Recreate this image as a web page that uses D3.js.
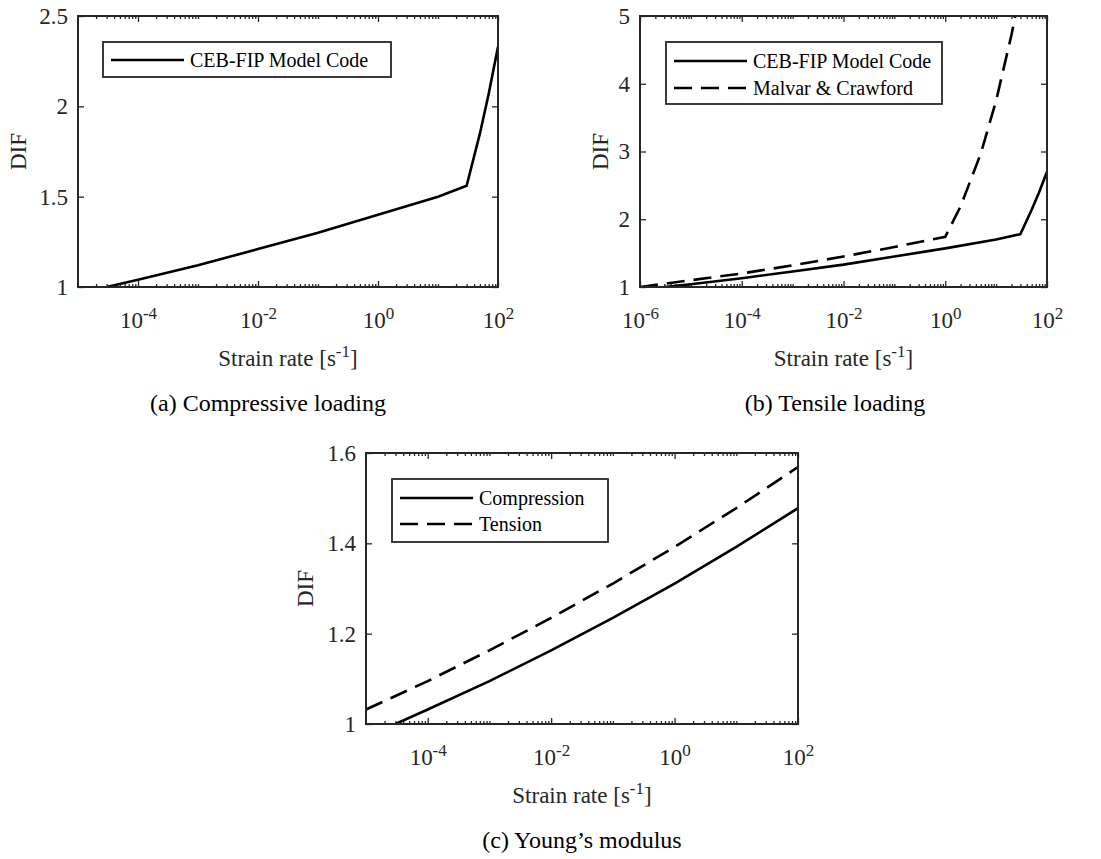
<!DOCTYPE html>
<html>
<head>
<meta charset="utf-8">
<script src="https://cdn.jsdelivr.net/npm/d3@7"></script>
<style>
  body { margin: 0; background: #fff; }
  svg text { font-family: "Liberation Serif", "Times New Roman", serif; }
</style>
</head>
<body>
<svg id="chart" width="1101" height="859"></svg>
<script>
// (a) compressive loading, CEB-FIP
const rateCompCEB = [3e-5, 1e-4, 1e-3, 1e-2, 1e-1, 1, 10, 30, 50, 70, 100]
const difCompCEB = [1.00, 1.04, 1.12, 1.21, 1.30, 1.40, 1.50, 1.56, 1.85, 2.07, 2.33]

// (b) tensile loading
const rateTensCEB = [3e-6, 1e-5, 1e-4, 1e-3, 1e-2, 1e-1, 1, 10, 30, 50, 70, 100]
const difTensCEB = [1.00, 1.04, 1.13, 1.23, 1.33, 1.45, 1.57, 1.70, 1.78, 2.14, 2.40, 2.70]
const rateTensMalvar = [1e-6, 1e-5, 1e-4, 1e-3, 1e-2, 1e-1, 1, 2, 5, 10, 20, 23.8]
const difTensMalvar = [1.00, 1.10, 1.20, 1.32, 1.45, 1.59, 1.74, 2.19, 2.97, 3.75, 4.72, 5.00]

// (c) Young's modulus
const rateModComp = [3e-5, 1e-4, 1e-3, 1e-2, 1e-1, 1, 10, 100]
const difModComp = [1.000, 1.032, 1.095, 1.163, 1.235, 1.311, 1.392, 1.478]
const rateModTens = [1e-5, 1e-4, 1e-3, 1e-2, 1e-1, 1, 10, 100]
const difModTens = [1.032, 1.095, 1.163, 1.235, 1.311, 1.392, 1.478, 1.569]

// tick labels
const yTicksA = [1, 1.5, 2, 2.5]
const yTicksB = [1, 2, 3, 4, 5]
const yTicksC = [1, 1.2, 1.4, 1.6]
const xExpsA = [-4, -2, 0, 2]
const xExpsB = [-6, -4, -2, 0, 2]
const xExpsC = [-4, -2, 0, 2]

const AXIS = '#262626'
const DASH = '18,9'
const FONT = 23

const zip = (xs, ys) => xs.map((v, i) => ({ rate: v, dif: ys[i] }))

const svg = d3.select('#chart')

const drawPanel = (p) => {
  const x = d3.scaleLog().domain(p.xDomain).range([p.left, p.right])
  const y = d3.scaleLinear().domain(p.yDomain).range([p.bottom, p.top])
  const g = svg.append('g')

  const majors = p.xExps.map(e => Math.pow(10, e))
  const isMajor = v => majors.some(m => Math.abs(Math.log10(v) - Math.log10(m)) < 1e-6)
  const minors = x.ticks().filter(v => !isMajor(v) && v > p.xDomain[0] * 1.0001 && v < p.xDomain[1] * 0.9999)

  const styleAxis = sel => {
    sel.select('.domain').remove()
    sel.selectAll('line').attr('stroke', AXIS).attr('stroke-width', 1.3)
    sel.attr('font-family', null).attr('font-size', null)
  }

  // minor ticks, bottom and top
  g.append('g').attr('transform', `translate(0,${p.bottom})`)
    .call(d3.axisBottom(x).tickValues(minors).tickSize(-3).tickSizeOuter(0).tickFormat(''))
    .call(styleAxis)
  g.append('g').attr('transform', `translate(0,${p.top})`)
    .call(d3.axisTop(x).tickValues(minors).tickSize(-3).tickSizeOuter(0).tickFormat(''))
    .call(styleAxis)

  // major ticks with 10^n labels
  g.append('g').attr('transform', `translate(0,${p.bottom})`)
    .call(d3.axisBottom(x).tickValues(majors).tickSize(-6).tickSizeOuter(0).tickPadding(25).tickFormat(() => ''))
    .call(styleAxis)
    .selectAll('.tick text')
    .style('font-size', FONT + 'px')
    .attr('fill', AXIS)
    .each(function (d) {
      const t = d3.select(this)
      t.append('tspan').text('10')
      t.append('tspan').attr('dy', -9).style('font-size', '17px').text(Math.round(Math.log10(d)))
    })
  g.append('g').attr('transform', `translate(0,${p.top})`)
    .call(d3.axisTop(x).tickValues(majors).tickSize(-6).tickSizeOuter(0).tickFormat(''))
    .call(styleAxis)

  // y ticks left and right
  g.append('g').attr('transform', `translate(${p.left},0)`)
    .call(d3.axisLeft(y).tickValues(p.yTicks).tickSize(-6).tickSizeOuter(0).tickPadding(10).tickFormat(d3.format('')))
    .call(styleAxis)
    .selectAll('.tick text')
    .style('font-size', FONT + 'px')
    .attr('fill', AXIS)
  g.append('g').attr('transform', `translate(${p.right},0)`)
    .call(d3.axisRight(y).tickValues(p.yTicks).tickSize(-6).tickSizeOuter(0).tickFormat(''))
    .call(styleAxis)

  // curves
  const clipId = 'clip-' + p.id
  g.append('clipPath').attr('id', clipId)
    .append('rect')
    .attr('x', p.left).attr('y', p.top)
    .attr('width', p.right - p.left).attr('height', p.bottom - p.top)

  const line = d3.line().x(d => x(d.rate)).y(d => y(d.dif))
  p.series.forEach(s => {
    g.append('path')
      .datum(s.data)
      .attr('clip-path', `url(#${clipId})`)
      .attr('d', line)
      .style('fill', 'none')
      .style('stroke', '#000')
      .style('stroke-width', 2.6)
      .style('stroke-dasharray', s.dashed ? DASH : null)
  })

  // box
  g.append('rect')
    .attr('x', p.left).attr('y', p.top)
    .attr('width', p.right - p.left).attr('height', p.bottom - p.top)
    .style('fill', 'none')
    .style('stroke', AXIS)
    .style('stroke-width', 2)

  // legend
  const lg = g.append('g')
  lg.append('rect')
    .attr('x', p.legend.x).attr('y', p.legend.y)
    .attr('width', p.legend.w).attr('height', p.legend.h)
    .style('fill', '#fff')
    .style('stroke', AXIS)
    .style('stroke-width', 1.8)
  p.series.forEach((s, i) => {
    const ry = p.legend.rows[i]
    lg.append('line')
      .attr('x1', p.legend.x + 8).attr('x2', p.legend.x + 81)
      .attr('y1', ry).attr('y2', ry)
      .style('stroke', '#000')
      .style('stroke-width', 2.6)
      .style('stroke-dasharray', s.dashed ? DASH : null)
    lg.append('text')
      .attr('x', p.legend.x + 87)
      .attr('y', ry)
      .attr('dy', '0.35em')
      .style('font-size', '20px')
      .style('fill', '#000')
      .text(s.name)
  })

  // axis labels
  g.append('text')
    .attr('transform', `translate(${p.yLabelX},${(p.top + p.bottom) / 2}) rotate(-90)`)
    .attr('text-anchor', 'middle')
    .attr('dy', '0.35em')
    .style('font-size', FONT + 'px')
    .style('fill', AXIS)
    .text('DIF')

  const xl = g.append('text')
    .attr('x', (p.left + p.right) / 2)
    .attr('y', p.bottom + 79)
    .attr('text-anchor', 'middle')
    .style('font-size', FONT + 'px')
    .style('fill', AXIS)
  xl.append('tspan').text('Strain rate [s')
  xl.append('tspan').attr('dy', -9).style('font-size', '17px').text('-1')
  xl.append('tspan').attr('dy', 9).text(']')

  // caption
  svg.append('text')
    .attr('x', p.captionX)
    .attr('y', p.bottom + 124)
    .attr('text-anchor', 'middle')
    .style('font-size', '24px')
    .style('fill', '#000')
    .text(p.caption)
}

drawPanel({
  id: 'a', left: 78, right: 498, top: 16, bottom: 287,
  xDomain: [1e-5, 1e2], yDomain: [1, 2.5],
  yTicks: yTicksA, xExps: xExpsA, yLabelX: 18, captionX: 268,
  caption: '(a) Compressive loading',
  legend: { x: 103, y: 42, w: 288, h: 35, rows: [60] },
  series: [{ name: 'CEB-FIP Model Code', data: zip(rateCompCEB, difCompCEB), dashed: false }]
})

drawPanel({
  id: 'b', left: 640, right: 1047, top: 16, bottom: 287,
  xDomain: [1e-6, 1e2], yDomain: [1, 5],
  yTicks: yTicksB, xExps: xExpsB, yLabelX: 600, captionX: 835,
  caption: '(b) Tensile loading',
  legend: { x: 666, y: 42, w: 276, h: 62, rows: [61, 88] },
  series: [
    { name: 'CEB-FIP Model Code', data: zip(rateTensCEB, difTensCEB), dashed: false },
    { name: 'Malvar & Crawford', data: zip(rateTensMalvar, difTensMalvar), dashed: true }
  ]
})

drawPanel({
  id: 'c', left: 366, right: 798, top: 453, bottom: 724,
  xDomain: [1e-5, 1e2], yDomain: [1, 1.6],
  yTicks: yTicksC, xExps: xExpsC, yLabelX: 305, captionX: 582,
  caption: '(c) Young\u2019s modulus',
  legend: { x: 392, y: 479, w: 216, h: 63, rows: [498, 524] },
  series: [
    { name: 'Compression', data: zip(rateModComp, difModComp), dashed: false },
    { name: 'Tension', data: zip(rateModTens, difModTens), dashed: true }
  ]
})
</script>
</body>
</html>
